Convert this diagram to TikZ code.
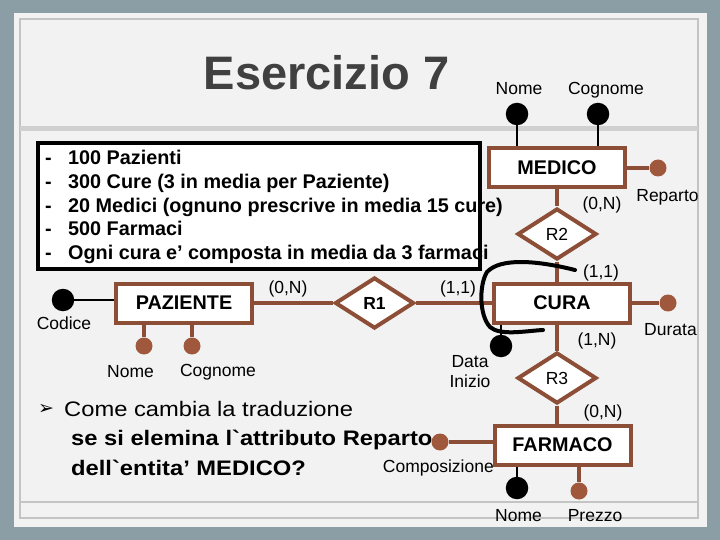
\documentclass[tikz,border=0pt]{standalone}
\usepackage{fontspec}
\setmainfont{Liberation Sans}[Ligatures=TeXOff]
\newfontfamily\widefont{Liberation Sans}[FakeStretch=1.13, Ligatures=TeXOff]
\newfontfamily\symfont{DejaVu Sans}
\usetikzlibrary{shapes.geometric}

\definecolor{slatebg}{RGB}{139,158,166}
\definecolor{panelgray}{RGB}{242,242,242}
\definecolor{rimgray}{RGB}{196,196,196}
\definecolor{bandgray}{RGB}{208,208,208}
\definecolor{titlegray}{RGB}{64,64,64}
\definecolor{erbrown}{RGB}{140,78,54}
\definecolor{dotbrown}{RGB}{160,88,60}

\begin{document}
\begin{tikzpicture}[x=1pt, y=-1pt,
    entity/.style={draw=erbrown, fill=white, line width=4pt, minimum width=136pt, minimum height=39pt, inner sep=0pt, font=\fontsize{19.8}{24}\selectfont\bfseries},
    relation/.style={diamond, draw=erbrown, fill=white, line width=4pt, minimum width=79pt, minimum height=51pt, inner sep=0pt, font=\fontsize{17.5}{21}\selectfont},
    keydot/.style={circle, fill=black, minimum size=22.5pt, inner sep=0pt},
    attdot/.style={circle, fill=dotbrown, minimum size=17pt, inner sep=0pt},
    lbl/.style={anchor=base, inner sep=0pt, font=\fontsize{17.5}{20}\selectfont},
    fact/.style={anchor=base west, inner sep=0pt, font=\fontsize{19.8}{24}\selectfont\bfseries},
    question/.style={anchor=base west, inner sep=0pt, font=\widefont\fontsize{21}{29}\selectfont},
    questionbold/.style={question, font=\widefont\fontsize{21}{29}\selectfont\bfseries},
    keyline/.style={line width=1.8pt},
    attline/.style={draw=erbrown, line width=4pt}]
    \useasboundingbox (0,0) rectangle (720,540);

    % slide
    \fill[slatebg] (0,0) rectangle (720,540);
    \fill[panelgray] (14,13) rectangle (707,527);
    \draw[rimgray, line width=2pt] (20,19) rectangle (698,518);
    \fill[bandgray] (20,126) rectangle (698,131);
    \draw[rimgray, line width=1.5pt] (20,502) -- (698,502);
    \node[anchor=base, inner sep=0pt, text=titlegray, font=\fontsize{47}{56}\selectfont\bfseries] (title) at (326.5,90) {Esercizio 7};

    % data box
    \fill[white] (38,143) rectangle (480,269);
    \foreach \ly/\ltext [count=\i] in {165/{100 Pazienti}, 188.5/{300 Cure (3 in media per Paziente)}, 212/{20 Medici (ognuno prescrive in media 15 cure)}, 235.5/{500 Farmaci}, 259/{Ogni cura e’ composta in media da 3 farmaci}} {
        \node[fact] (dash\i) at (45,\ly) {-};
        \node[fact] (fact\i) at (68,\ly) {\ltext};
    }
    \draw[line width=3.5pt] (38,143) rectangle (480,269);

    % entities and relations
    \node[entity] (MEDICO) at (557,168) {MEDICO};
    \node[entity] (CURA) at (562,303) {CURA};
    \node[entity] (FARMACO) at (562.5,445) {FARMACO};
    \node[entity] (PAZIENTE) at (184,303) {PAZIENTE};
    \node[relation, font=\fontsize{17.5}{21}\selectfont\bfseries] (R1) at (374.5,303) {R1};
    \node[relation] (R2) at (557,234) {R2};
    \node[relation] (R3) at (557,378) {R3};
    \draw[attline] (MEDICO) -- (R2);
    \draw[attline] (R2) -- (R2 |- CURA.north);
    \draw[attline] (R3 |- CURA.south) -- (R3);
    \draw[attline] (R3) -- (R3 |- FARMACO.north);
    \draw[attline] (PAZIENTE) -- (R1) -- (CURA);

    % cardinalities
    \node[lbl] (cardMed) at (602,210) {(0,N)};
    \node[lbl] (cardCuraR2) at (601,277) {(1,1)};
    \node[lbl] (cardCuraR1) at (458,293) {(1,1)};
    \node[lbl] (cardPaz) at (288,293) {(0,N)};
    \node[lbl] (cardCuraR3) at (597,345) {(1,N)};
    \node[lbl] (cardFar) at (603,417) {(0,N)};

    % attributes
    \node[keydot] (medNome) at (517,114) {};
    \node[keydot] (medCognome) at (598,114) {};
    \draw[keyline] (medNome) -- (medNome |- MEDICO.north);
    \draw[keyline] (medCognome) -- (medCognome |- MEDICO.north);
    \node[lbl] (lblMedNome) at (519,95) {Nome};
    \node[lbl] (lblMedCognome) at (606,95) {Cognome};
    \node[attdot] (reparto) at (658,168) {};
    \draw[attline] (MEDICO) -- (reparto);
    \node[lbl] (lblReparto) at (667.5,202) {Reparto};

    \node[attdot] (durata) at (668,303) {};
    \draw[attline] (CURA) -- (durata);
    \node[lbl] (lblDurata) at (670.5,335) {Durata};
    \node[keydot] (dataInizio) at (501,346) {};
    \draw[keyline] (dataInizio |- CURA.south) -- (dataInizio);
    \node[lbl, anchor=north, align=center] (lblDataInizio) at (470,355.5) {Data\\Inizio};

    \node[keydot] (codice) at (63,300) {};
    \draw[keyline] (codice) -- (codice -| PAZIENTE.west);
    \node[lbl] (lblCodice) at (64,329) {Codice};
    \node[attdot] (pazNome) at (144,346) {};
    \node[attdot] (pazCognome) at (192,346) {};
    \draw[attline] (pazNome |- PAZIENTE.south) -- (pazNome);
    \draw[attline] (pazCognome |- PAZIENTE.south) -- (pazCognome);
    \node[lbl] (lblPazNome) at (130.5,377) {Nome};
    \node[lbl] (lblPazCognome) at (218,376) {Cognome};

    \node[attdot] (composizione) at (440,442) {};
    \draw[attline] (composizione) -- (composizione -| FARMACO.west);
    \node[lbl, anchor=base east] (lblComposizione) at (494,472) {Composizione};
    \node[keydot] (farNome) at (517,488) {};
    \node[attdot] (prezzo) at (579,491) {};
    \draw[keyline] (farNome |- FARMACO.south) -- (farNome);
    \draw[attline] (prezzo |- FARMACO.south) -- (prezzo);
    \node[lbl] (lblFarNome) at (518.5,521) {Nome};
    \node[lbl] (lblPrezzo) at (595,521) {Prezzo};

    % freehand mark
    \draw[line width=4pt, line cap=round] (575,270) .. controls (535,260) and (500,258) .. (487,272) .. controls (479,285) and (479,315) .. (490,327) .. controls (500,336) and (525,331) .. (543,330);

    % question
    \node[inner sep=0pt, font=\symfont\fontsize{19}{22}\selectfont] (bullet) at (46,409) {➢};
    \node[question] (question1) at (64,416) {Come cambia la traduzione};
    \node[questionbold] (question2) at (71,445) {se si elemina l`attributo Reparto};
    \node[questionbold] (question3) at (71,475) {dell`entita’ MEDICO?};
\end{tikzpicture}
\end{document}
